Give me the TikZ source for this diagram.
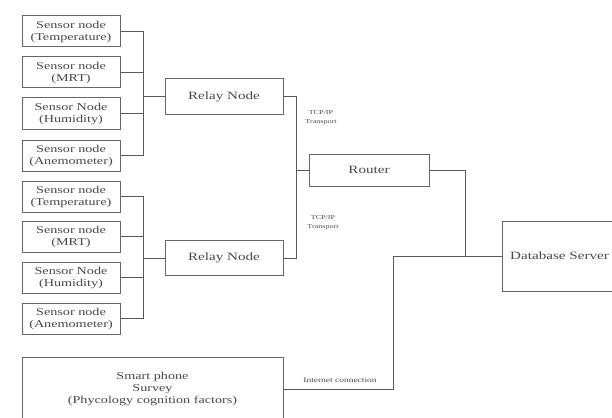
\documentclass[tikz,border=0pt]{standalone}
\usepackage{fontspec}
\usepackage{graphicx}
\setmainfont{Liberation Serif}
\newcommand{\wtxt}[1]{\scalebox{1.35}[1]{#1}}
\begin{document}
\begin{tikzpicture}[x=1pt,y=-1pt,
  every node/.style={inner sep=0pt, text=black!72},
  box/.style={draw=black!60, line width=1pt, align=center, font=\fontsize{10.5}{12}\selectfont},
  sbox/.style={box, minimum width=98pt, minimum height=31pt},
  rbox/.style={box, minimum width=118pt, minimum height=35pt, font=\fontsize{11.2}{12}\selectfont},
  tiny/.style={align=center, font=\fontsize{6}{9}\selectfont},
  conn/.style={draw=black!65, line width=0.9pt}]
\useasboundingbox (0,0) rectangle (612,417);
\clip (0,0) rectangle (612,417);
% group 1
\node[sbox] (a1) at (71,31.5) {\wtxt{Sensor node}\\\wtxt{(Temperature)}};
\node[sbox] (a2) at (71,72.5) {\wtxt{Sensor node}\\\wtxt{(MRT)}};
\node[sbox] (a3) at (71,113.5) {\wtxt{Sensor Node}\\\wtxt{(Humidity)}};
\node[sbox] (a4) at (71,155.5) {\wtxt{Sensor node}\\\wtxt{(Anemometer)}};
% group 2
\node[sbox] (b1) at (71,196.5) {\wtxt{Sensor node}\\\wtxt{(Temperature)}};
\node[sbox] (b2) at (71,236.5) {\wtxt{Sensor node}\\\wtxt{(MRT)}};
\node[sbox] (b3) at (71,277.5) {\wtxt{Sensor Node}\\\wtxt{(Humidity)}};
\node[sbox] (b4) at (71,318.5) {\wtxt{Sensor node}\\\wtxt{(Anemometer)}};
% relays, router, server
\node[rbox] (r1) at (224,96.5) {\wtxt{Relay Node}};
\node[rbox] (r2) at (224,258) {\wtxt{Relay Node}};
\node[rbox, minimum width=120pt, minimum height=32pt] (rt) at (369,170) {\wtxt{Router}};
\node[rbox, minimum width=140pt, minimum height=70pt] (db) at (572,256) {};
\node[anchor=west, font=\fontsize{11.2}{12}\selectfont] (dbt) at (510,256) {\wtxt{Database Server}};
\node[box, minimum width=261pt, minimum height=64pt] (ph) at (152.5,389) {\wtxt{Smart phone}\\\wtxt{Survey}\\\wtxt{(Phycology cognition factors)}};
% labels
\node[tiny] (l1) at (321,118) {\wtxt{TCP/IP}\\\wtxt{Transport}};
\node[tiny] (l2) at (323,223) {\wtxt{TCP/IP}\\\wtxt{Transport}};
\node[tiny, font=\fontsize{7}{9}\selectfont] (l3) at (340,380) {\wtxt{Internet connection}};
% junctions
\coordinate (ja) at (143,96.5);
\coordinate (jb) at (143,258);
\coordinate (jr) at (296,170);
\coordinate (jd) at (465,256);
\coordinate (jp) at (393,256);
% connectors
\foreach \n in {a1,a2,a3,a4} \draw[conn] (\n.east) -| (ja);
\foreach \n in {b1,b2,b3,b4} \draw[conn] (\n.east) -| (jb);
\draw[conn] (ja) -- (r1.west);
\draw[conn] (jb) -- (r2.west);
\draw[conn] (r1.east) -| (jr);
\draw[conn] (r2.east) -| (jr);
\draw[conn] (jr) -- (rt.west);
\draw[conn] (rt.east) -| (jd) -- (db.west);
\draw[conn] (ph.east) -| (jp) -- (db.west);
\end{tikzpicture}
\end{document}
